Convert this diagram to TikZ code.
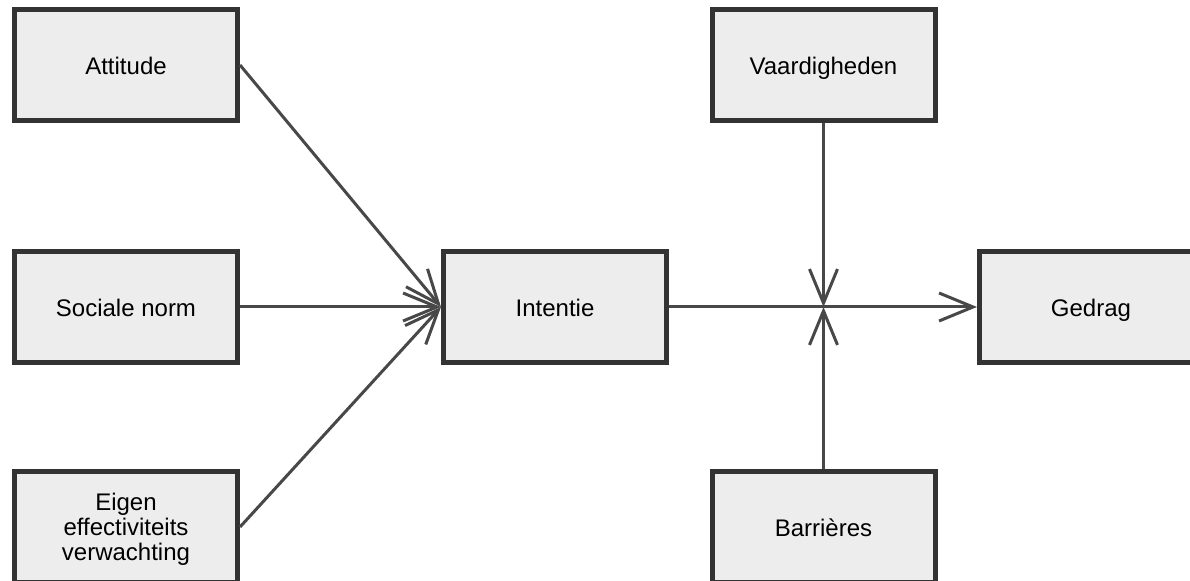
\documentclass[tikz,border=0pt]{standalone}
\usepackage{fontspec}
\setmainfont{Liberation Sans}
\usepackage{tikz}
\usetikzlibrary{arrows.meta, positioning}
\usepackage{xcolor}
\definecolor{boxfill}{RGB}{237,237,237}
\definecolor{boxedge}{RGB}{51,51,51}
\definecolor{linecol}{RGB}{72,72,72}

\begin{document}
\begin{tikzpicture}[x=0.5pt, y=-0.5pt,
    blok/.style={draw=boxedge, fill=boxfill, line width=2.5pt, minimum width=111.5pt, minimum height=55.5pt, align=center, text height=2.1ex, text depth=.3ex, font=\fontsize{12}{12.5}\selectfont},
    pijl/.style={draw=linecol, line width=1.5pt, -{Straight Barb[length=17pt, width=14pt, line width=1.5pt]}}]
  \useasboundingbox (0,0) rectangle (1190,581);
  % Determinanten
  \node[blok] (attitude) at (126,65) {Attitude};
  \node[blok] (norm) at (126,307) {Sociale norm};
  \node[blok, text height=, text depth=] (eigen) at (126,527) {\raisebox{-5pt}[0pt][0pt]{\begin{tabular}{@{}c@{}}Eigen\\effectiviteits\\verwachting\end{tabular}}};
  % Midden en rechts
  \node[blok] (intentie) at (555,307) {Intentie};
  \node[blok] (vaardig) at (823.5,65) {Vaardigheden};
  \node[blok] (barriere) at (823.5,527) {Barrières};
  \node[blok] (gedrag) at (1091,307) {Gedrag};
  \coordinate (knoop) at (intentie.east -| vaardig.south);
  % Pijlen
  \draw[pijl] (attitude.east) -- (intentie.west);
  \draw[pijl] (norm.east) -- (intentie.west);
  \draw[pijl] (eigen.east) -- (intentie.west);
  \draw[pijl] (intentie.east) -- (gedrag.west);
  \draw[pijl] (vaardig.south) -- (knoop);
  \draw[pijl] (barriere.north) -- (knoop);
\end{tikzpicture}
\end{document}
